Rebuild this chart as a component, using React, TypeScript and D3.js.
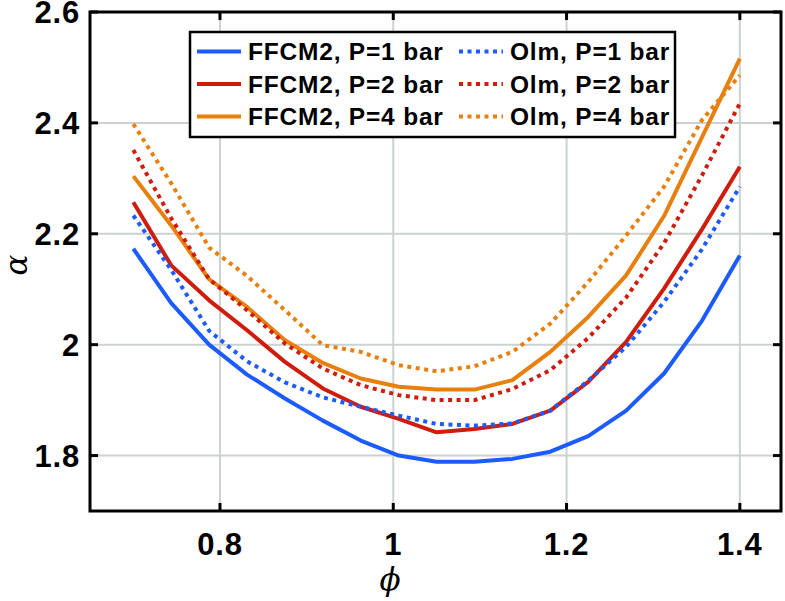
import React, { useEffect, useRef } from "react";
import * as d3 from "d3";

// equivalence ratio samples
const phi = [
  0.7, 0.74375, 0.7875, 0.83125, 0.875, 0.91875, 0.9625, 1.00625, 1.05,
  1.09375, 1.1375, 1.18125, 1.225, 1.26875, 1.3125, 1.35625, 1.4,
];

// pressure exponent alpha per mechanism / pressure
const ffcm2P1 = [2.173, 2.075, 2.0, 1.946, 1.903, 1.863, 1.827, 1.8, 1.789, 1.789, 1.794, 1.807, 1.835, 1.881, 1.948, 2.043, 2.161];
const ffcm2P2 = [2.257, 2.143, 2.08, 2.026, 1.969, 1.921, 1.888, 1.866, 1.842, 1.848, 1.857, 1.881, 1.933, 2.005, 2.101, 2.208, 2.321];
const ffcm2P4 = [2.304, 2.215, 2.118, 2.068, 2.008, 1.967, 1.939, 1.924, 1.919, 1.919, 1.936, 1.987, 2.05, 2.125, 2.232, 2.374, 2.516];
const olmP1 = [2.233, 2.135, 2.025, 1.97, 1.932, 1.905, 1.888, 1.872, 1.857, 1.854, 1.858, 1.881, 1.935, 1.996, 2.077, 2.172, 2.285];
const olmP2 = [2.351, 2.228, 2.118, 2.062, 2.002, 1.957, 1.927, 1.909, 1.9, 1.9, 1.92, 1.954, 2.012, 2.085, 2.183, 2.305, 2.435];
const olmP4 = [2.398, 2.291, 2.175, 2.124, 2.062, 1.999, 1.987, 1.963, 1.952, 1.961, 1.987, 2.038, 2.113, 2.197, 2.285, 2.405, 2.486];

const xTicks = [0.8, 1, 1.2, 1.4];
const yTicks = [1.8, 2, 2.2, 2.4, 2.6];

const BLUE = "#1c5cff";
const RED = "#cf1d0d";
const ORANGE = "#e7800f";

interface Series {
  label: string;
  values: number[];
  color: string;
  dotted: boolean;
}

const series: Series[] = [
  { label: "FFCM2, P=1 bar", values: ffcm2P1, color: BLUE, dotted: false },
  { label: "FFCM2, P=2 bar", values: ffcm2P2, color: RED, dotted: false },
  { label: "FFCM2, P=4 bar", values: ffcm2P4, color: ORANGE, dotted: false },
  { label: "Olm, P=1 bar", values: olmP1, color: BLUE, dotted: true },
  { label: "Olm, P=2 bar", values: olmP2, color: RED, dotted: true },
  { label: "Olm, P=4 bar", values: olmP4, color: ORANGE, dotted: true },
];

const W = 785;
const H = 601;
const FONT = "'Liberation Sans', Arial, Helvetica, sans-serif";

const App: React.FC = () => {
  const svgRef = useRef<SVGSVGElement>(null);

  useEffect(() => {
    if (!svgRef.current) return;
    const svg = d3.select(svgRef.current);
    svg.selectAll("*").remove();

    const left = 90, right = 781, top = 12, bottom = 511;

    const x = d3.scaleLinear().domain([0.65, 1.4475]).range([left, right]);
    const y = d3.scaleLinear().domain([1.7, 2.6]).range([bottom, top]);

    // grid
    const grid = svg.append("g").attr("stroke", "#cdd1d1").attr("stroke-width", 2);
    xTicks.forEach((t) =>
      grid.append("line").attr("x1", x(t)).attr("x2", x(t)).attr("y1", top).attr("y2", bottom)
    );
    yTicks.forEach((t) =>
      grid.append("line").attr("x1", left).attr("x2", right).attr("y1", y(t)).attr("y2", y(t))
    );

    // curves
    const line = d3
      .line<number>()
      .x((_, i) => x(phi[i]))
      .y((d) => y(d));

    svg
      .append("g")
      .selectAll("path")
      .data(series)
      .enter()
      .append("path")
      .attr("d", (d) => line(d.values))
      .attr("fill", "none")
      .attr("stroke", (d) => d.color)
      .attr("stroke-width", 4)
      .attr("stroke-dasharray", (d) => (d.dotted ? "4,4.5" : null))
      .attr("stroke-linejoin", "round");

    // frame and inward ticks
    const axis = svg.append("g").attr("stroke", "black").attr("stroke-width", 3);
    axis
      .append("rect")
      .attr("x", left)
      .attr("y", top)
      .attr("width", right - left)
      .attr("height", bottom - top)
      .attr("fill", "none");
    const tl = 8;
    xTicks.forEach((t) => {
      axis.append("line").attr("x1", x(t)).attr("x2", x(t)).attr("y1", bottom).attr("y2", bottom - tl);
      axis.append("line").attr("x1", x(t)).attr("x2", x(t)).attr("y1", top).attr("y2", top + tl);
    });
    yTicks.forEach((t) => {
      axis.append("line").attr("x1", left).attr("x2", left + tl).attr("y1", y(t)).attr("y2", y(t));
      axis.append("line").attr("x1", right).attr("x2", right - tl).attr("y1", y(t)).attr("y2", y(t));
    });

    // tick labels
    const labels = svg
      .append("g")
      .attr("font-family", FONT)
      .attr("font-weight", "bold")
      .attr("font-size", 31)
      .attr("letter-spacing", 0.8)
      .attr("fill", "black");
    xTicks.forEach((t) =>
      labels
        .append("text")
        .attr("x", x(t))
        .attr("y", bottom + 44)
        .attr("text-anchor", "middle")
        .text(d3.format("~g")(t))
    );
    yTicks.forEach((t) =>
      labels
        .append("text")
        .attr("x", left - 10)
        .attr("y", y(t) + 11)
        .attr("text-anchor", "end")
        .text(d3.format("~g")(t))
    );

    // axis titles
    svg
      .append("text")
      .attr("x", 390)
      .attr("y", 590)
      .attr("text-anchor", "middle")
      .attr("font-family", "'DejaVu Serif', 'Liberation Serif', serif")
      .attr("font-style", "italic")
      .attr("font-size", 31)
      .text("ϕ");
    svg
      .append("text")
      .attr("transform", `translate(27, 265) rotate(-90)`)
      .attr("text-anchor", "middle")
      .attr("font-family", "'DejaVu Serif', 'Liberation Serif', serif")
      .attr("font-style", "italic")
      .attr("font-size", 31)
      .text("α");

    // legend
    const lg = svg.append("g");
    lg.append("rect")
      .attr("x", 190)
      .attr("y", 32)
      .attr("width", 485)
      .attr("height", 105)
      .attr("fill", "white")
      .attr("stroke", "black")
      .attr("stroke-width", 2.5);
    const rowY = (i: number) => 51.5 + i * 32.5;
    series.forEach((s, k) => {
      const col = k < 3 ? 0 : 1;
      const row = k % 3;
      const x0 = col === 0 ? 197 : 459;
      lg.append("line")
        .attr("x1", x0)
        .attr("x2", x0 + 44)
        .attr("y1", rowY(row))
        .attr("y2", rowY(row))
        .attr("stroke", s.color)
        .attr("stroke-width", 4)
        .attr("stroke-dasharray", s.dotted ? "4,4.5" : null);
      lg.append("text")
        .attr("x", x0 + 51)
        .attr("y", rowY(row) + 8.5)
        .attr("font-family", FONT)
        .attr("font-weight", "bold")
        .attr("font-size", 24.5)
        .attr("letter-spacing", 0.8)
        .text(s.label);
    });
  }, []);

  return (
    <svg
      ref={svgRef}
      width={W}
      height={H}
      viewBox={`0 0 ${W} ${H}`}
      style={{ position: "absolute", left: 0, top: 0, background: "white" }}
    />
  );
};

export default App;
